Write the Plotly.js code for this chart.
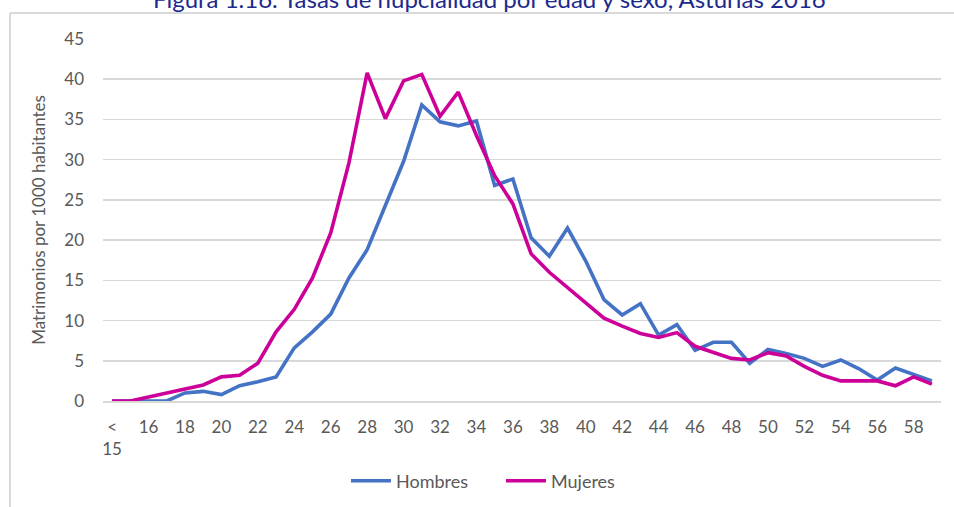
<!DOCTYPE html>
<html>
<head>
<meta charset="utf-8">
<script src="https://cdn.plot.ly/plotly-3.0.1.min.js"></script>
<style>html,body{margin:0;padding:0;background:#fff;}#chart{width:954px;height:507px;}</style>
</head>
<body>
<div id="chart"></div>
<script>
const edades = ["< 15","15","16","17","18","19","20","21","22","23","24","25","26","27","28","29","30","31","32","33","34","35","36","37","38","39","40","41","42","43","44","45","46","47","48","49","50","51","52","53","54","55","56","57","58","59"];
const hombres = [0,0,0,0,1.0,1.2,0.8,1.9,2.4,3.0,6.6,8.6,10.8,15.3,18.8,24.4,29.8,36.8,34.7,34.2,34.8,26.8,27.6,20.3,18.0,21.5,17.4,12.6,10.7,12.1,8.2,9.5,6.3,7.3,7.3,4.7,6.4,5.9,5.3,4.3,5.1,4.0,2.6,4.1,3.3,2.5];
const mujeres = [0,0,0.5,1.0,1.6,2.0,3.0,3.2,4.7,8.6,11.4,15.3,20.9,29.6,40.8,35.1,39.8,40.6,35.4,38.4,33.0,28.0,24.5,18.3,16.0,14.1,12.2,10.3,9.3,8.4,7.9,8.5,6.8,6.0,5.3,5.1,6.0,5.6,4.3,3.2,2.5,2.5,2.5,1.9,3.0,2.1];
const tickCats = ["< 15","16","18","20","22","24","26","28","30","32","34","36","38","40","42","44","46","48","50","52","54","56","58"];
const tickLabels = ["<<br>15","16","18","20","22","24","26","28","30","32","34","36","38","40","42","44","46","48","50","52","54","56","58"];
const serieNombres = ["Hombres","Mujeres"];
const titulo = "Figura 1.16. Tasas de nupcialidad por edad y sexo, Asturias 2016";
const ejeY = "Matrimonios por 1000 habitantes";

const W = 954, H = 507;
const m = {l:103, r:13, t:39, b:106};
const pw = W - m.l - m.r, ph = H - m.t - m.b;
const px = x => (x - m.l) / pw;
const py = y => (H - m.b - y) / ph;

const font = "Lato, 'Open Sans', sans-serif";
const grey = "#595959";

const data = [
  {x: edades, y: hombres, name: serieNombres[0], type: "scatter", mode: "lines",
   line: {color: "#4472C4", width: 3.6}},
  {x: edades, y: mujeres, name: serieNombres[1], type: "scatter", mode: "lines",
   line: {color: "#CC0099", width: 3.6}}
];

const layout = {
  width: W, height: H,
  margin: m,
  paper_bgcolor: "#fff", plot_bgcolor: "#fff",
  font: {family: font, color: grey, size: 16},
  title: {text: titulo, font: {family: font, size: 24, color: "#1c2a8c"},
          xref: "paper", x: 0.461, xanchor: "center", yref: "container", y: 1.0, yanchor: "middle"},
  showlegend: true,
  legend: {orientation: "h", xref: "container", x: 346 / W, xanchor: "left",
           yref: "container", y: (H - 481) / H, yanchor: "middle",
           font: {family: font, size: 18, color: grey}, itemwidth: 40, tracegroupgap: 0,
           entrywidth: 100, entrywidthmode: "pixels"},
  xaxis: {type: "category", tickmode: "array", tickvals: tickCats, ticktext: tickLabels,
          tickangle: 0, showgrid: false, showline: true, linecolor: "#d9d9d9", linewidth: 1.5,
          ticks: "", ticklabelstandoff: 10, tickfont: {family: font, size: 17, color: grey},
          automargin: false,
          range: [-0.5, edades.length - 0.5], fixedrange: true},
  yaxis: {range: [0, 45], dtick: 5, tick0: 0, showgrid: true, gridcolor: "#d9d9d9", gridwidth: 1.5,
          zeroline: false, showline: false, ticks: "", ticklabelstandoff: 18, automargin: false,
          tickfont: {family: font, size: 17, color: grey},
          title: {text: ejeY, font: {family: font, size: 17, color: grey}, standoff: 14}},
  shapes: [
    {type: "line", xref: "paper", yref: "paper", x0: px(10), x1: px(10), y0: py(13), y1: py(507), line: {color: "#d9d9d9", width: 2}},
    {type: "line", xref: "paper", yref: "paper", x0: px(10), x1: px(954), y0: py(13), y1: py(13), line: {color: "#d9d9d9", width: 2}}
  ]
};

Plotly.newPlot("chart", data, layout, {displayModeBar: false, staticPlot: true});
</script>
</body>
</html>
